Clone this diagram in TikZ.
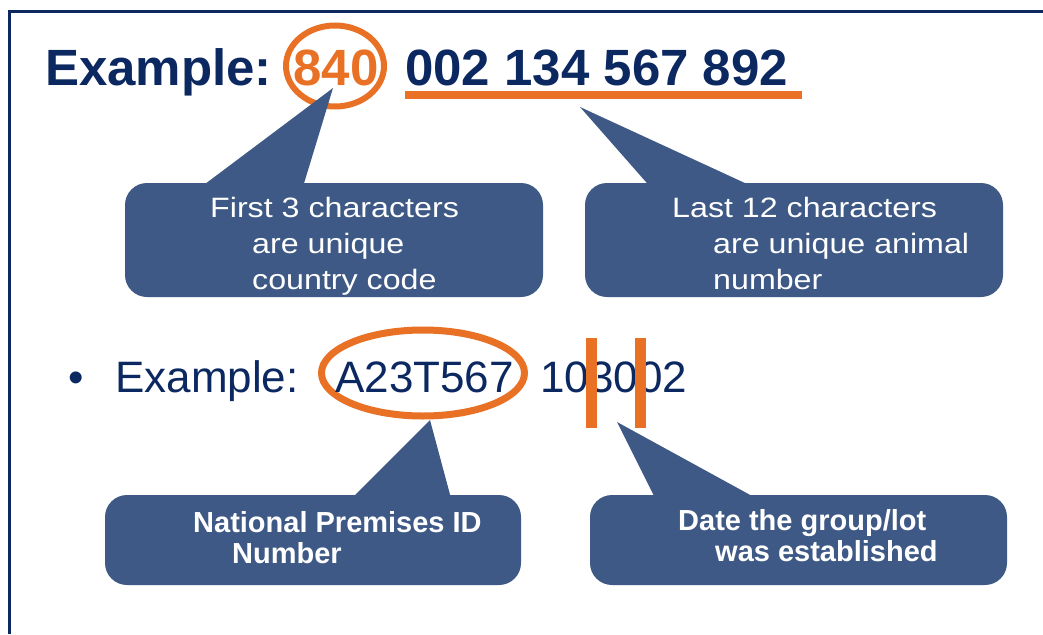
\documentclass[tikz,border=0pt]{standalone}
\usepackage{fontspec}
\setmainfont{Liberation Sans}
\newfontfamily\tagfont[FakeStretch=1.15]{Liberation Sans}
\usetikzlibrary{shapes.geometric}
\definecolor{idnavy}{RGB}{12,40,96}
\definecolor{idorange}{RGB}{233,113,38}
\definecolor{idblue}{RGB}{62,89,133}
\tikzset{
  bigtxt/.style={inner sep=0pt, text=idnavy, font=\fontsize{51}{60}\selectfont\bfseries},
  midtxt/.style={inner sep=0pt, text=idnavy, font=\fontsize{44}{52}\selectfont},
  tagtxt/.style={inner sep=0pt, text=white, align=left, font=\tagfont\fontsize{28}{36}\selectfont},
  tagbold/.style={inner sep=0pt, text=white, align=left, font=\fontsize{29}{31}\selectfont\bfseries},
  tagbox/.style={fill=idblue, rounded corners=22pt, inner sep=0pt},
  ring/.style={draw=idorange, ellipse, inner sep=0pt},
}
\begin{document}
\begin{tikzpicture}[x=1pt,y=-1pt]
\useasboundingbox (0,0) rectangle (1043,634);
\draw[idnavy, line width=3pt] (9.5,634) -- (9.5,11.5) -- (1043,11.5); % frame
% first example
\node[bigtxt, anchor=base west] (ex1) at (45,85) {Example:};
\node[ring, line width=6pt, minimum width=98pt, minimum height=81pt] (r840) at (335,66) {};
\node[bigtxt, text=idorange, anchor=base] (cc) at (336,85) {840};
\node[bigtxt, anchor=base west] (an) at (405,85) {002 134 567 892};
\draw[idorange, line width=8pt] (405,95) -- (802,95);
% second example
\node[midtxt, anchor=base west] (dot) at (68,392) {•};
\node[midtxt, anchor=base west] (ex2) at (115,392) {Example:};
\node[ring, line width=7pt, minimum width=203pt, minimum height=86pt] (rpin) at (423,373) {};
\node[midtxt, anchor=base west] (pin) at (335,392) {A23T567};
\node[midtxt, anchor=base west] (lot) at (540,392) {103002};
\foreach \x in {591,640} % edit here for the bars
\draw[idorange, line width=11pt] (\x,338) -- (\x,428);
% tips of the pointers
\coordinate (t1) at (333,88);
\coordinate (t2) at (580,107);
\coordinate (t3) at (430,420);
\coordinate (t4) at (617,422);
% callouts
\node[tagbox, minimum width=418pt, minimum height=114pt] (b1) at (334,240) {};
\node[tagbox, minimum width=418pt, minimum height=114pt] (b2) at (794,240) {};
\node[tagbox, minimum width=416pt, minimum height=90pt] (b3) at (313,540) {};
\node[tagbox, minimum width=417pt, minimum height=90pt] (b4) at (798.5,540) {};
\fill[idblue] (197,190) -- (t1) -- (302,190) -- cycle;
\fill[idblue] (653,190) -- (t2) -- (760,190) -- cycle;
\fill[idblue] (348,502) -- (t3) -- (452,502) -- cycle;
\fill[idblue] (657,502) -- (t4) -- (763,502) -- cycle;
\node[tagtxt, anchor=base west] (l1) at (210,289)
{First 3 characters\\\hspace*{42pt}are unique\\\hspace*{42pt}country code};
\node[tagtxt, anchor=base west] (l2) at (672,289)
{Last 12 characters\\\hspace*{41pt}are unique animal\\\hspace*{41pt}number};
\node[tagbold, anchor=base west] (l3) at (193,563)
{National Premises ID\\\hspace*{39pt}Number};
\node[tagbold, anchor=base west] (l4) at (678,561)
{Date the group/lot\\\hspace*{37pt}was established};
\end{tikzpicture}
\end{document}
